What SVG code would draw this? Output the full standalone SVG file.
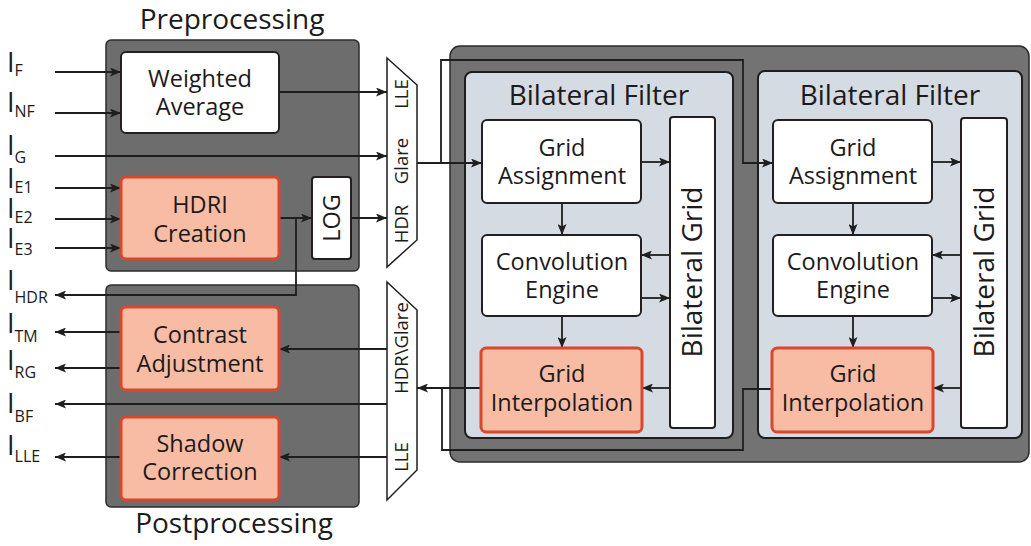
<svg xmlns="http://www.w3.org/2000/svg" width="1031" height="546" viewBox="0 0 1031 546">
  <defs>
    <marker id="arr" markerWidth="11" markerHeight="9" refX="11" refY="4.5" orient="auto" markerUnits="userSpaceOnUse">
      <path d="M0,0 L11,4.5 L0,9 L2.5,4.5 z" fill="#1e1e1e"/>
    </marker>
    <style>
      text{font-family:"Open Sans","Liberation Sans",sans-serif;fill:#1c1a1b}
      .lbl{font-size:23.5px;text-anchor:middle}
      .title{font-size:28px;text-anchor:middle}
      .muxt{font-size:18.5px;text-anchor:middle}
      .io{font-size:27px}
      .sub{font-size:16px}
      .panel{fill:#6d6d6d;stroke:#2b2b2b;stroke-width:1.5}
      .outer{fill:#737373;stroke:#2b2b2b;stroke-width:1.5}
      .bfp{fill:#d5dbe2;stroke:#1e1e1e;stroke-width:2}
      .white{fill:#fff;stroke:#231f20;stroke-width:2}
      .hot{fill:#f8bca5;stroke:#d9472e;stroke-width:3}
      .muxs{fill:#fff;stroke:#1e1e1e;stroke-width:1.5}
      .wire{fill:none;stroke:#1e1e1e;stroke-width:1.8}
      .arrow{marker-end:url(#arr)}
    </style>
  </defs>
  <rect width="1031" height="546" fill="#fff"/>

  <!-- pre/post processing panels -->
  <g id="preprocessing">
    <rect class="panel" x="106" y="40" width="253" height="231" rx="5"/>
    <text class="title" x="232" y="29">Preprocessing</text>
  </g>
  <g id="postprocessing">
    <rect class="panel" x="106" y="285" width="253" height="222" rx="5"/>
    <text class="title" x="234" y="533">Postprocessing</text>
  </g>

  <!-- bilateral filter stage -->
  <g id="filter-stage">
    <rect class="outer" x="450" y="46" width="579" height="416" rx="10"/>
  </g>
  <g id="bilateral-filter-1">
    <rect class="bfp" x="465" y="72" width="268" height="366" rx="7"/>
    <text class="title" x="599" y="105">Bilateral Filter</text>
  </g>
  <g id="bilateral-filter-2">
    <rect class="bfp" x="758" y="71" width="264" height="367" rx="7"/>
    <text class="title" x="890" y="105">Bilateral Filter</text>
  </g>

  <!-- connectors -->
  <g id="connectors">
    <!-- inputs -->
    <line class="wire arrow" x1="55" y1="72" x2="121" y2="72"/>
    <line class="wire arrow" x1="55" y1="113" x2="121" y2="113"/>
    <line class="wire arrow" x1="55" y1="156" x2="387" y2="156"/>
    <line class="wire arrow" x1="55" y1="188" x2="121" y2="188"/>
    <line class="wire arrow" x1="55" y1="219" x2="121" y2="219"/>
    <line class="wire arrow" x1="55" y1="248" x2="121" y2="248"/>
    <!-- preprocessing to mux -->
    <line class="wire arrow" x1="279" y1="92" x2="387" y2="92"/>
    <line class="wire arrow" x1="279" y1="218" x2="312" y2="218"/>
    <line class="wire arrow" x1="351" y1="218" x2="387" y2="218"/>
    <polyline class="wire arrow" points="296,218 296,295 55,295"/>
    <!-- mux to filters -->
    <line class="wire arrow" x1="417" y1="163" x2="482" y2="163"/>
    <polyline class="wire arrow" points="441,163 441,60 743,60 743,163 773,163"/>
    <!-- filter 1 internal -->
    <line class="wire arrow" x1="641" y1="162" x2="670" y2="162"/>
    <line class="wire arrow" x1="670" y1="255" x2="641" y2="255"/>
    <line class="wire arrow" x1="641" y1="298" x2="670" y2="298"/>
    <line class="wire arrow" x1="670" y1="388" x2="642" y2="388"/>
    <line class="wire arrow" x1="562" y1="203" x2="562" y2="235"/>
    <line class="wire arrow" x1="562" y1="316" x2="562" y2="348"/>
    <!-- filter 2 internal -->
    <line class="wire arrow" x1="932" y1="162" x2="961" y2="162"/>
    <line class="wire arrow" x1="961" y1="255" x2="932" y2="255"/>
    <line class="wire arrow" x1="932" y1="298" x2="961" y2="298"/>
    <line class="wire arrow" x1="961" y1="388" x2="933" y2="388"/>
    <line class="wire arrow" x1="853" y1="203" x2="853" y2="235"/>
    <line class="wire arrow" x1="853" y1="316" x2="853" y2="348"/>
    <!-- filters back to output mux -->
    <line class="wire arrow" x1="481" y1="388" x2="417" y2="388"/>
    <polyline class="wire" points="772,389 743,389 743,450 442,450 442,388"/>
    <!-- output mux to postprocessing -->
    <line class="wire arrow" x1="387" y1="349" x2="279" y2="349"/>
    <line class="wire arrow" x1="387" y1="457" x2="279" y2="457"/>
    <line class="wire arrow" x1="387" y1="404" x2="55" y2="404"/>
    <!-- outputs -->
    <line class="wire arrow" x1="121" y1="332" x2="55" y2="332"/>
    <line class="wire arrow" x1="121" y1="368" x2="55" y2="368"/>
    <line class="wire arrow" x1="121" y1="457" x2="55" y2="457"/>
  </g>

  <!-- I/O labels -->
  <g id="io-labels">
    <text x="7" y="72"><tspan class="io">I</tspan><tspan class="sub" y="76">F</tspan></text>
    <text x="7" y="112"><tspan class="io">I</tspan><tspan class="sub" y="117">NF</tspan></text>
    <text x="7" y="155"><tspan class="io">I</tspan><tspan class="sub" y="163">G</tspan></text>
    <text x="7" y="188"><tspan class="io">I</tspan><tspan class="sub" y="193">E1</tspan></text>
    <text x="7" y="218"><tspan class="io">I</tspan><tspan class="sub" y="223">E2</tspan></text>
    <text x="7" y="248"><tspan class="io">I</tspan><tspan class="sub" y="255">E3</tspan></text>
    <text x="7" y="290"><tspan class="io">I</tspan><tspan class="sub" y="303">HDR</tspan></text>
    <text x="7" y="333"><tspan class="io">I</tspan><tspan class="sub" y="342">TM</tspan></text>
    <text x="7" y="370"><tspan class="io">I</tspan><tspan class="sub" y="378">RG</tspan></text>
    <text x="7" y="413"><tspan class="io">I</tspan><tspan class="sub" y="422">BF</tspan></text>
    <text x="7" y="455"><tspan class="io">I</tspan><tspan class="sub" y="462">LLE</tspan></text>
  </g>

  <!-- preprocessing nodes -->
  <g id="weighted-average">
    <rect class="white" x="121" y="52" width="158" height="81" rx="5"/>
    <text class="lbl" x="200" y="87">Weighted</text>
    <text class="lbl" x="200" y="115">Average</text>
  </g>
  <g id="hdri-creation">
    <rect class="hot" x="121" y="177" width="158" height="82" rx="5"/>
    <text class="lbl" x="200" y="213">HDRI</text>
    <text class="lbl" x="200" y="242">Creation</text>
  </g>
  <g id="log">
    <rect class="white" x="312" y="177" width="39" height="82" rx="3"/>
    <text class="lbl" transform="translate(340,218) rotate(-90)" font-size="25">LOG</text>
  </g>

  <!-- multiplexers -->
  <g id="mux-in">
    <polygon class="muxs" points="387,58 417,85 417,240 387,267"/>
    <text class="muxt" transform="translate(408,94) rotate(-90)">LLE</text>
    <text class="muxt" transform="translate(408,161) rotate(-90)">Glare</text>
    <text class="muxt" transform="translate(408,224) rotate(-90)">HDR</text>
  </g>
  <g id="mux-out">
    <polygon class="muxs" points="387,282 417,310 417,470 387,500"/>
    <text class="muxt" transform="translate(408,348) rotate(-90)" font-size="17.5">HDR\Glare</text>
    <text class="muxt" transform="translate(408,457) rotate(-90)">LLE</text>
  </g>

  <!-- postprocessing nodes -->
  <g id="contrast-adjustment">
    <rect class="hot" x="121" y="307" width="158" height="83" rx="5"/>
    <text class="lbl" x="200" y="343">Contrast</text>
    <text class="lbl" x="200" y="372">Adjustment</text>
  </g>
  <g id="shadow-correction">
    <rect class="hot" x="121" y="417" width="158" height="83" rx="5"/>
    <text class="lbl" x="200" y="452">Shadow</text>
    <text class="lbl" x="200" y="480">Correction</text>
  </g>

  <!-- bilateral filter 1 nodes -->
  <g id="grid-assignment-1">
    <rect class="white" x="482" y="120" width="159" height="83" rx="5"/>
    <text class="lbl" x="562" y="156">Grid</text>
    <text class="lbl" x="562" y="184">Assignment</text>
  </g>
  <g id="convolution-engine-1">
    <rect class="white" x="482" y="235" width="159" height="81" rx="5"/>
    <text class="lbl" x="562" y="270">Convolution</text>
    <text class="lbl" x="562" y="298">Engine</text>
  </g>
  <g id="grid-interpolation-1">
    <rect class="hot" x="481" y="348" width="161" height="84" rx="5"/>
    <text class="lbl" x="562" y="382">Grid</text>
    <text class="lbl" x="562" y="411">Interpolation</text>
  </g>
  <g id="bilateral-grid-1">
    <rect class="white" x="670" y="117" width="45" height="311" rx="3"/>
    <text class="title" transform="translate(702,272) rotate(-90)">Bilateral Grid</text>
  </g>

  <!-- bilateral filter 2 nodes -->
  <g id="grid-assignment-2">
    <rect class="white" x="773" y="120" width="159" height="83" rx="5"/>
    <text class="lbl" x="853" y="156">Grid</text>
    <text class="lbl" x="853" y="184">Assignment</text>
  </g>
  <g id="convolution-engine-2">
    <rect class="white" x="773" y="235" width="159" height="81" rx="5"/>
    <text class="lbl" x="853" y="270">Convolution</text>
    <text class="lbl" x="853" y="298">Engine</text>
  </g>
  <g id="grid-interpolation-2">
    <rect class="hot" x="772" y="348" width="161" height="84" rx="5"/>
    <text class="lbl" x="853" y="382">Grid</text>
    <text class="lbl" x="853" y="411">Interpolation</text>
  </g>
  <g id="bilateral-grid-2">
    <rect class="white" x="961" y="118" width="46" height="310" rx="3"/>
    <text class="title" transform="translate(994,272) rotate(-90)">Bilateral Grid</text>
  </g>
</svg>
